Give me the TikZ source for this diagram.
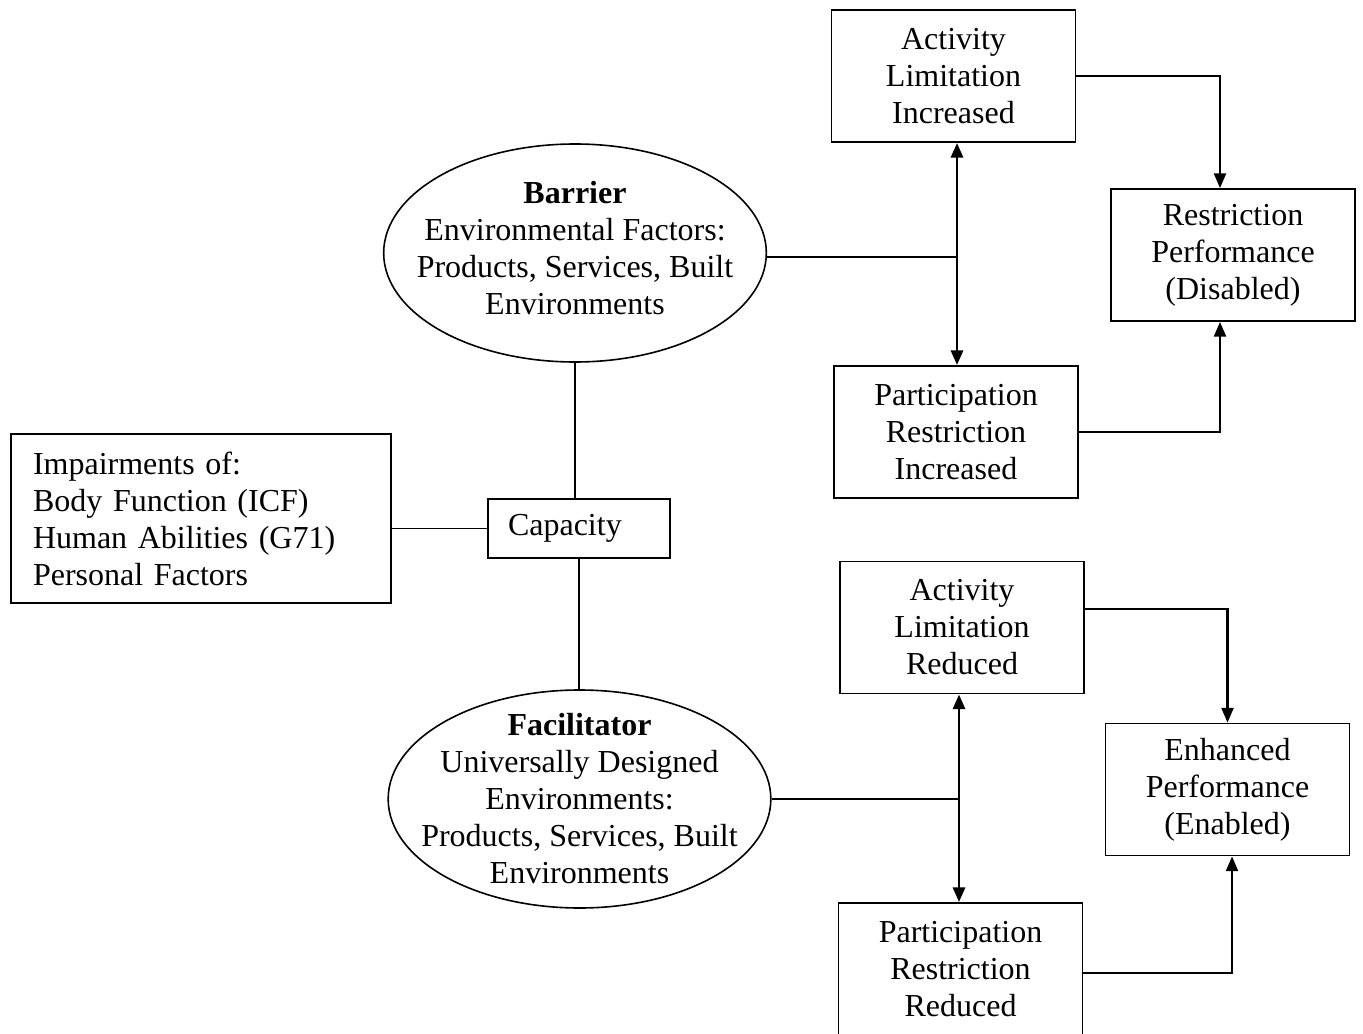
\documentclass[tikz,border=0pt]{standalone}
\usepackage{fontspec}
\setmainfont{Liberation Serif}
\usetikzlibrary{arrows.meta}
\usetikzlibrary{shapes.geometric}
\usetikzlibrary{calc}

\begin{document}
\begin{tikzpicture}[x=0.75pt, y=-0.75pt,
        txt/.style={font=\fontsize{24}{27.75}\selectfont},
        box/.style={txt, draw=black, line width=1.4pt, align=center, minimum width=183pt, minimum height=99pt, inner sep=0pt},
        oval/.style={draw=black, line width=1.2pt, ellipse, minimum width=287pt, minimum height=163.5pt, inner sep=0pt},
        link/.style={black, line width=1.1pt},
        tip/.style={black, line width=1.6pt, -{Triangle[length=11pt,width=9pt]}},
        both/.style={black, line width=2.2pt, {Triangle[length=11pt,width=9pt]}-{Triangle[length=11pt,width=9pt]}}]
                \useasboundingbox (0,0) rectangle (1363,1034);
                \clip (0,0) rectangle (1363,1034);
                \node[oval] (barrier) at (575,253) {};
                \node[txt, align=center] (barriertext) at ([yshift=4pt]barrier.center) {\textbf{Barrier}\\Environmental Factors:\\Products, Services, Built\\Environments};
                \node[oval] (facil) at (579.5,799) {};
                \node[txt, align=center] (faciltext) at (facil.center) {\textbf{Facilitator}\\Universally Designed\\Environments:\\Products, Services, Built\\Environments};
                \node[box] (ali) at (953.5,76) {Activity\\Limitation\\Increased};
                \node[box] (rp) at (1233,255) {Restriction\\Performance\\(Disabled)};
                \node[box] (pri) at (956,432) {Participation\\Restriction\\Increased};
                \node[box] (alr) at (962,627.5) {Activity\\Limitation\\Reduced};
                \node[box] (ep) at (1227.5,789.5) {Enhanced\\Performance\\(Enabled)};
                \node[box] (prr) at (960.5,969) {Participation\\Restriction\\Reduced};
                \node[box, minimum width=136.5pt, minimum height=44.25pt, inner xsep=15pt, text width=106.5pt, align=left] (cap) at (579,528.5) {Capacity};
                \node[box, minimum width=285pt, minimum height=126.75pt, inner xsep=16.5pt, text width=252pt, align=left] (imp) at (201,518.5) {Impairments of:\\Body Function (ICF)\\Human Abilities (G71)\\Personal Factors};
                \coordinate (jb) at (957,257);
                \coordinate (jf) at (959,799);
                \draw[link] (barrier.south) -- (barrier.south |- cap.north);
                \draw[link] (cap.south) -- (cap.south |- facil.north);
                \draw[link] (cap.west) -- (cap.west -| imp.east);
                \draw[link] (barrier.east |- jb) -- (jb);
                \draw[link] (facil.east) -- (jf);
                \draw[both] (ali.south -| jb) -- (pri.north -| jb);
                \draw[both] (alr.south -| jf) -- (prr.north -| jf);
                \draw[tip] (ali.east) -| ([xshift=-9.75pt]rp.north);
                \draw[tip] (pri.east) -| ([xshift=-9.75pt]rp.south);
                \draw[tip] ([yshift=13.9pt]alr.east) -| (ep.north);
                \draw[tip] ([yshift=-3pt]prr.east) -| ([xshift=3.4pt]ep.south);
            \end{tikzpicture}
\end{document}
